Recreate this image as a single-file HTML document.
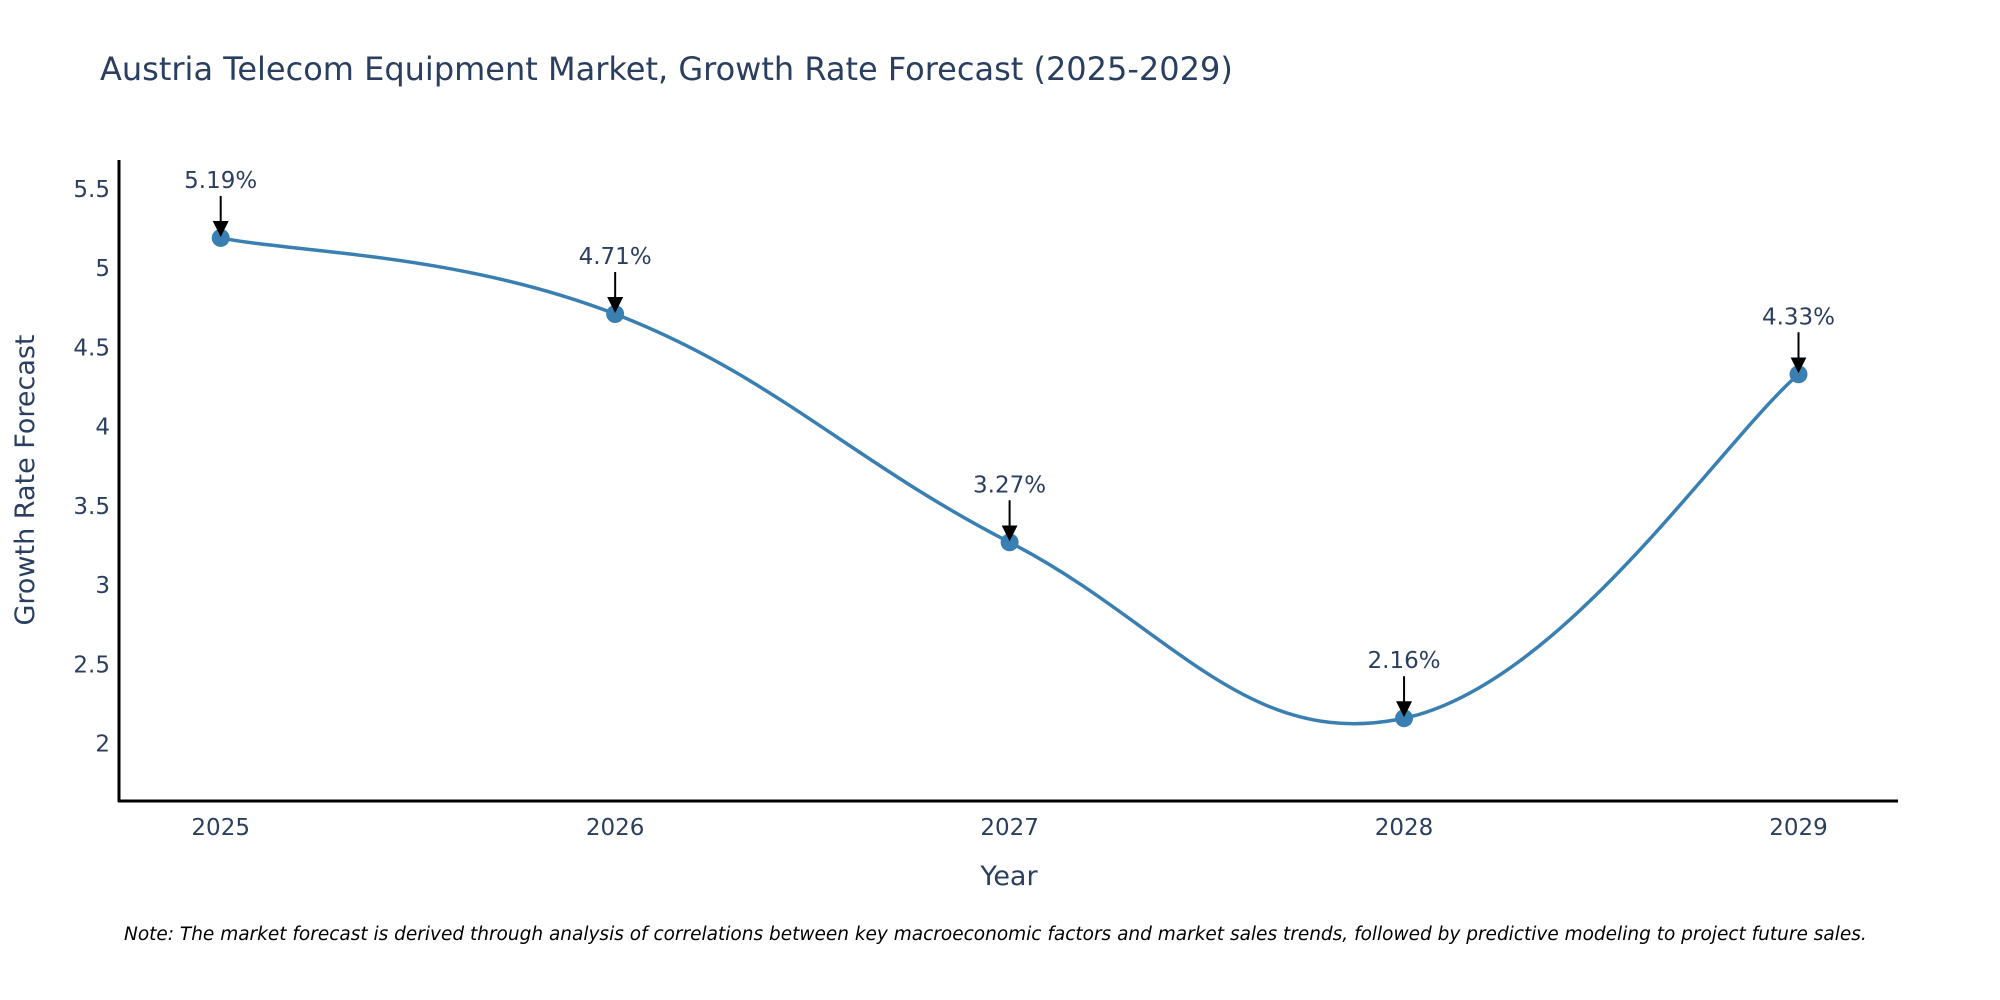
<!DOCTYPE html>
<html><head><meta charset="utf-8"><style>
body{margin:0;background:#fff;}
svg{display:block;font-family:"DejaVu Sans","Liberation Sans",sans-serif;}
</style></head><body>
<svg id="chart" width="2000" height="1000" viewBox="0 0 2000 1000">
<text x="100" y="80" font-size="32" fill="#2a3f5f">Austria Telecom Equipment Market, Growth Rate Forecast (2025-2029)</text>
<g id="yticks"></g><g id="xticks"></g>
<line x1="119" y1="160" x2="119" y2="802" stroke="#000" stroke-width="3"/>
<line x1="118" y1="801" x2="1898" y2="801" stroke="#000" stroke-width="3"/>
<text x="1009" y="885" font-size="27" fill="#2a3f5f" text-anchor="middle">Year</text>
<text transform="translate(34,480) rotate(-90)" font-size="27" fill="#2a3f5f" text-anchor="middle">Growth Rate Forecast</text>
<g id="series"></g>
<text x="124" y="940" font-size="18.5" font-style="italic" fill="#000">Note: The market forecast is derived through analysis of correlations between key macroeconomic factors and market sales trends, followed by predictive modeling to project future sales.</text>
<defs><marker id="ah" markerUnits="userSpaceOnUse" markerWidth="16" markerHeight="16" refX="14" refY="8" orient="auto"><path d="M0,0 L16,8 L0,16 Z" fill="#000"/></marker></defs>
</svg>
<script>
const years=[2025,2026,2027,2028,2029];
const values=[5.19,4.71,3.27,2.16,4.33];
const labels=["5.19%","4.71%","3.27%","2.16%","4.33%"];
const yTicks=[2,2.5,3,3.5,4,4.5,5,5.5];
const yTickLabels=["2","2.5","3","3.5","4","4.5","5","5.5"];
const NS="http://www.w3.org/2000/svg";
const xs=y=>220.7+(y-2025)*(1798.5-220.7)/4;
const ys=v=>743.6-(v-2)*(743.6-188.8)/3.5;
function mk(t,a,p){const e=document.createElementNS(NS,t);for(const k in a)e.setAttribute(k,a[k]);p.appendChild(e);return e;}
const yt=document.getElementById('yticks');
yTicks.forEach((v,i)=>{const t=mk('text',{x:110,y:ys(v)+8,'font-size':23,fill:'#2a3f5f','text-anchor':'end'},yt);


t.textContent=yTickLabels[i];});
const xt=document.getElementById('xticks');
years.forEach(y=>{const t=mk('text',{x:xs(y),y:835,'font-size':23,fill:'#2a3f5f','text-anchor':'middle'},xt);


t.textContent=y;});
const s=document.getElementById('series');
const P=years.map((y,i)=>[xs(y),ys(values[i])]);
let d='M'+P[0][0]+','+P[0][1];const k=0.2;
for(let i=0;i<P.length-1;i++){const p0=P[i-1]||P[i],p1=P[i],p2=P[i+1],p3=P[i+2]||P[i+1];
d+=' C'+(p1[0]+(p2[0]-p0[0])*k)+','+(p1[1]+(p2[1]-p0[1])*k)+' '+(p2[0]-(p3[0]-p1[0])*k)+','+(p2[1]-(p3[1]-p1[1])*k)+' '+p2[0]+','+p2[1];}
const ln=mk('path',{d:d,fill:'none',stroke:'#3a7fb1','stroke-width':3.5},s);


P.forEach((p,i)=>{const c=mk('circle',{cx:p[0],cy:p[1],r:9,fill:'#3a7fb1'},s);


const a=mk('line',{x1:p[0],y1:p[1]-42,x2:p[0],y2:p[1]-3,stroke:'#000','stroke-width':2,'marker-end':'url(#ah)'},s);


const t=mk('text',{x:p[0],y:p[1]-50,'font-size':23,fill:'#2a3f5f','text-anchor':'middle'},s);


t.textContent=labels[i];});
</script>
</body></html>
